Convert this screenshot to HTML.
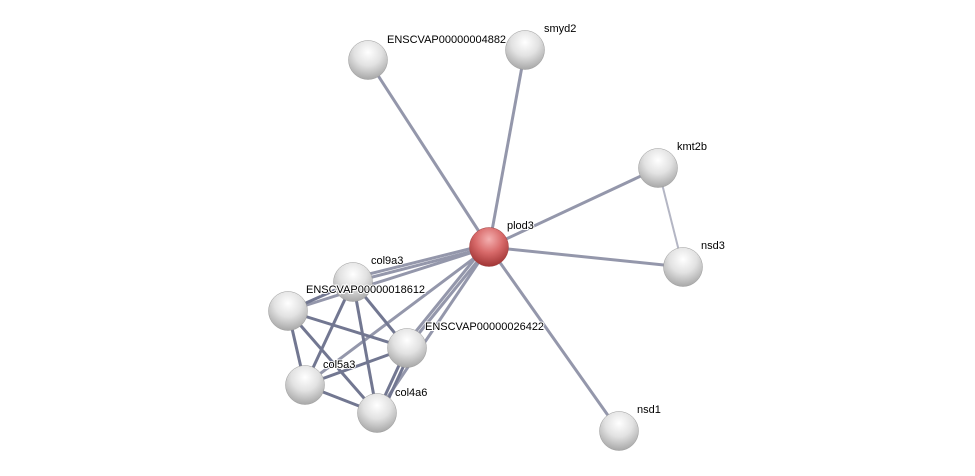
<!DOCTYPE html>
<html><head><meta charset="utf-8"><style>
html,body{margin:0;padding:0;background:#fff;}
svg{display:block;}
text{font-family:"Liberation Sans",sans-serif;font-size:11px;fill:#000;paint-order:stroke;stroke:#fff;stroke-width:2px;}
</style></head><body>
<svg width="975" height="476" viewBox="0 0 975 476" xmlns="http://www.w3.org/2000/svg">
<defs>
<radialGradient id="g" cx="0.5" cy="0.3" r="0.7">
<stop offset="0" stop-color="#ffffff"/><stop offset="0.5" stop-color="#e2e2e2"/><stop offset="1" stop-color="#a8a8a8"/>
</radialGradient>
<radialGradient id="r" cx="0.5" cy="0.3" r="0.7">
<stop offset="0" stop-color="#f4b0b0"/><stop offset="0.5" stop-color="#d86a6a"/><stop offset="1" stop-color="#a03434"/>
</radialGradient>
</defs>
<g stroke="#9497ab" stroke-width="3" fill="none">
<line x1="489" y1="247" x2="368" y2="60"/>
<line x1="489" y1="247" x2="525" y2="50"/>
<line x1="489" y1="247" x2="658" y2="168"/>
<line x1="489" y1="247" x2="683" y2="267"/>
<line x1="489" y1="247" x2="619" y2="431"/>
<line x1="489" y1="247" x2="353" y2="282"/>
<line x1="489" y1="244" x2="353" y2="278"/>
<line x1="489" y1="247" x2="288" y2="311"/>
<line x1="489" y1="247" x2="407" y2="348"/>
<line x1="486" y1="245" x2="404" y2="346"/>
<line x1="489" y1="247" x2="305" y2="385"/>
<line x1="489" y1="247" x2="377" y2="413"/>
</g>
<line x1="658" y1="168" x2="683" y2="267" stroke="#b4b6c4" stroke-width="2"/>
<g stroke="#727791" stroke-width="3" fill="none">
<line x1="288" y1="311" x2="353" y2="282"/>
<line x1="288" y1="311" x2="407" y2="348"/>
<line x1="288" y1="311" x2="305" y2="385"/>
<line x1="288" y1="311" x2="377" y2="413"/>
<line x1="353" y1="282" x2="305" y2="385"/>
<line x1="353" y1="282" x2="377" y2="413"/>
<line x1="353" y1="282" x2="407" y2="348"/>
<line x1="407" y1="348" x2="305" y2="385"/>
<line x1="407" y1="348" x2="377" y2="413"/>
<line x1="411" y1="350" x2="381" y2="415"/>
<line x1="305" y1="385" x2="377" y2="413"/>
</g>
<g stroke="#999" stroke-width="0.5">
<circle cx="368" cy="60" r="19.5" fill="url(#g)"/>
<circle cx="525" cy="50" r="19.5" fill="url(#g)"/>
<circle cx="658" cy="168" r="19.5" fill="url(#g)"/>
<circle cx="683" cy="267" r="19.5" fill="url(#g)"/>
<circle cx="619" cy="431" r="19.5" fill="url(#g)"/>
<circle cx="353" cy="282" r="19.5" fill="url(#g)"/>
<circle cx="288" cy="311" r="19.5" fill="url(#g)"/>
<circle cx="407" cy="348" r="19.5" fill="url(#g)"/>
<circle cx="305" cy="385" r="19.5" fill="url(#g)"/>
<circle cx="377" cy="413" r="19.5" fill="url(#g)"/>
<circle cx="489" cy="247" r="19.5" fill="url(#r)" stroke="#a04040"/>
</g>
<text x="387" y="43">ENSCVAP00000004882</text>
<text x="544" y="32">smyd2</text>
<text x="677" y="150">kmt2b</text>
<text x="507" y="229">plod3</text>
<text x="701" y="249">nsd3</text>
<text x="371" y="264">col9a3</text>
<text x="306" y="293">ENSCVAP00000018612</text>
<text x="425" y="330">ENSCVAP00000026422</text>
<text x="323" y="368">col5a3</text>
<text x="395" y="396">col4a6</text>
<text x="637" y="413">nsd1</text>
</svg>
</body></html>
